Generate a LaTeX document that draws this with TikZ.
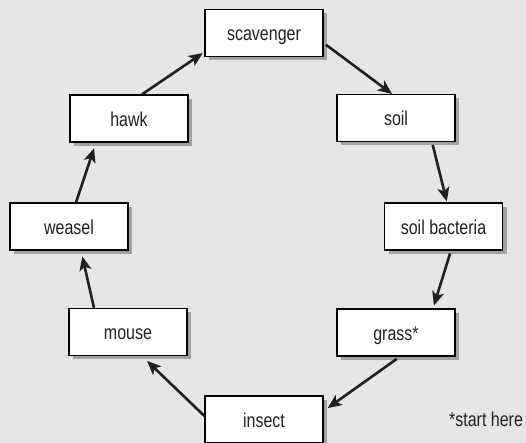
\documentclass[tikz,border=0pt]{standalone}
\usepackage{fontspec}
\setmainfont{Liberation Sans}[FakeStretch=0.8]
\usetikzlibrary{arrows.meta,shadows}
\definecolor{backColor}{RGB}{230,230,230}
\definecolor{shadowColor}{RGB}{160,161,164}
\definecolor{inkColor}{RGB}{35,31,32}
\tikzstyle{foodChain} = [x = 1pt, y = 1pt]
\tikzstyle{boxStyle} = [draw=black, line width=1.2pt, fill=white, minimum width=118pt, minimum height=47pt, inner sep=0pt, text height=15.5pt, text depth=0pt, text=inkColor, font=\fontsize{20}{24}\selectfont, drop shadow={shadow xshift=4pt, shadow yshift=-4pt, fill=shadowColor, opacity=1}]
\tikzstyle{arrowStyle} = [-{Stealth[length=14pt, width=12pt, inset=3.5pt]}, line width=2.6pt, color=inkColor]
\tikzstyle{noteText} = [text=inkColor, font=\fontsize{20}{24}\selectfont, inner sep=0pt, anchor=base]

\begin{document}
\begin{tikzpicture}[foodChain]
  \fill [backColor] (0,0) rectangle (526,443);
  \useasboundingbox (0,0) rectangle (526,443);

  \node [boxStyle] (scavenger) at (264,410) {scavenger};
  \node [boxStyle] (hawk) at (129,324.5) {hawk};
  \node [boxStyle] (soil) at (396,325) {soil};
  \node [boxStyle] (weasel) at (69,216.5) {weasel};
  \node [boxStyle] (bacteria) at (443.5,216.5) {soil bacteria};
  \node [boxStyle] (mouse) at (128,111) {mouse};
  \node [boxStyle] (grass) at (396,110.5) {grass*};
  \node [boxStyle] (insect) at (264,23.5) {insect};
  \node [noteText] (startNote) at (486,16) {*start here};

  \draw [arrowStyle, shorten >=2pt] ([xshift=13pt]hawk.north) -- ([yshift=-19pt]scavenger.west);
  \draw [arrowStyle, shorten <=3pt] ([yshift=-10pt]scavenger.east) -- ([xshift=-4pt]soil.north);
  \draw [arrowStyle, shorten <=3pt, shorten >=1pt] ([xshift=36pt]soil.south) -- ([xshift=3.5pt]bacteria.north);
  \draw [arrowStyle, shorten <=3pt, shorten >=3pt] ([xshift=7.5pt]bacteria.south) -- ([xshift=37pt]grass.north);
  \draw [arrowStyle, shorten <=4pt, shorten >=5pt] ([xshift=4pt]grass.south) -- ([yshift=8.5pt]insect.east);
  \draw [arrowStyle, shorten >=7pt] ([yshift=3.5pt]insect.west) -- ([xshift=14pt]mouse.south);
  \draw [arrowStyle, shorten >=6pt] ([xshift=-34pt]mouse.north) -- ([xshift=12pt]weasel.south);
  \draw [arrowStyle, shorten >=6pt] ([xshift=7pt]weasel.north) -- ([xshift=-33pt]hawk.south);
\end{tikzpicture}
\end{document}
